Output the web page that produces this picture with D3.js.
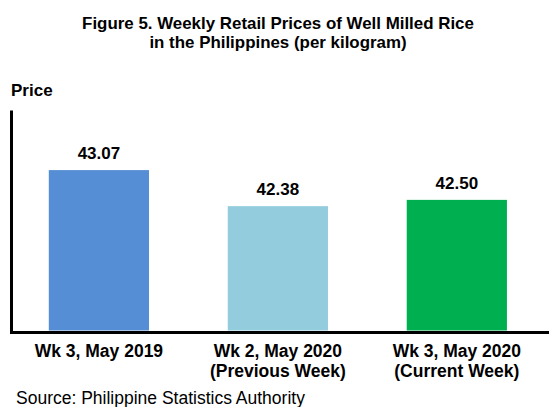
<!DOCTYPE html>
<html>
<head>
<meta charset="utf-8">
<script src="https://cdn.jsdelivr.net/npm/d3@7"></script>
<style>
  body { margin: 0; background: #fff; }
  text { font-family: "Liberation Sans", Arial, sans-serif; fill: #000; }
</style>
</head>
<body>
<svg id="chart"></svg>
<script>
// data
const categories = ["Wk 3, May 2019", "Wk 2, May 2020", "Wk 3, May 2020"];
const subLabels = ["", "(Previous Week)", "(Current Week)"];
const prices = [43.07, 42.38, 42.50];
const barColors = ["#558ED5", "#93CDDD", "#00B050"];

const width = 549, height = 407;

const svg = d3.select("#chart")
    .attr("width", width)
    .attr("height", height);

// title
const title = svg.append("text")
    .attr("text-anchor", "middle")
    .style("font-weight", "bold")
    .style("font-size", "16.9px");
title.append("tspan").attr("x", 278).attr("y", 28.5)
    .text("Figure 5. Weekly Retail Prices of Well Milled Rice");
title.append("tspan").attr("x", 278).attr("y", 48)
    .text("in the Philippines (per kilogram)");

svg.append("text")
    .attr("x", 11)
    .attr("y", 96)
    .style("font-weight", "bold")
    .style("font-size", "17px")
    .text("Price");

// scales
const x = d3.scaleBand()
    .domain(categories)
    .range([9.5, 549])
    .paddingInner(0.44)
    .paddingOuter(0.2273)
    .align(0.483);

const y = d3.scaleLinear()
    .domain([40, 44.22])
    .range([330.5, 110]);

// bars
svg.append("g")
  .selectAll("rect")
  .data(prices)
  .join("rect")
    .attr("x", (d, i) => x(categories[i]))
    .attr("width", x.bandwidth())
    .attr("y", d => y(d))
    .attr("height", d => y(40) - y(d))
    .attr("fill", (d, i) => barColors[i]);

// value labels
svg.append("g")
  .selectAll("text")
  .data(prices)
  .join("text")
    .attr("x", (d, i) => x(categories[i]) + x.bandwidth() / 2)
    .attr("y", d => y(d) - 11)
    .attr("text-anchor", "middle")
    .style("font-weight", "bold")
    .style("font-size", "17px")
    .text(d => d.toFixed(2));

// y axis (line only)
const yAxis = svg.append("g")
    .attr("transform", "translate(11,0)")
    .call(d3.axisLeft(y).tickValues([]).tickSizeOuter(0));
yAxis.select(".domain").attr("stroke", "#000").attr("stroke-width", 3);

// x axis
const xAxis = svg.append("g")
    .attr("transform", "translate(0,332)")
    .call(d3.axisBottom(x).tickSize(0).tickSizeOuter(0));
xAxis.select(".domain").attr("stroke", "#000").attr("stroke-width", 3);

xAxis.selectAll(".tick text")
    .attr("y", 0)
    .attr("dy", null)
    .style("font-family", "'Liberation Sans', Arial, sans-serif")
    .style("font-weight", "bold")
    .style("font-size", "17.5px")
    .attr("fill", "#000")
    .each(function(d, i) {
      const t = d3.select(this).text("");
      t.append("tspan").attr("x", 0).attr("y", 24.7).text(d);
      if (subLabels[i]) {
        t.append("tspan").attr("x", 0).attr("y", 44.7).text(subLabels[i]);
      }
    });

// source note
svg.append("text")
    .attr("x", 16)
    .attr("y", 404)
    .style("font-size", "17.5px")
    .text("Source: Philippine Statistics Authority");
</script>
</body>
</html>
